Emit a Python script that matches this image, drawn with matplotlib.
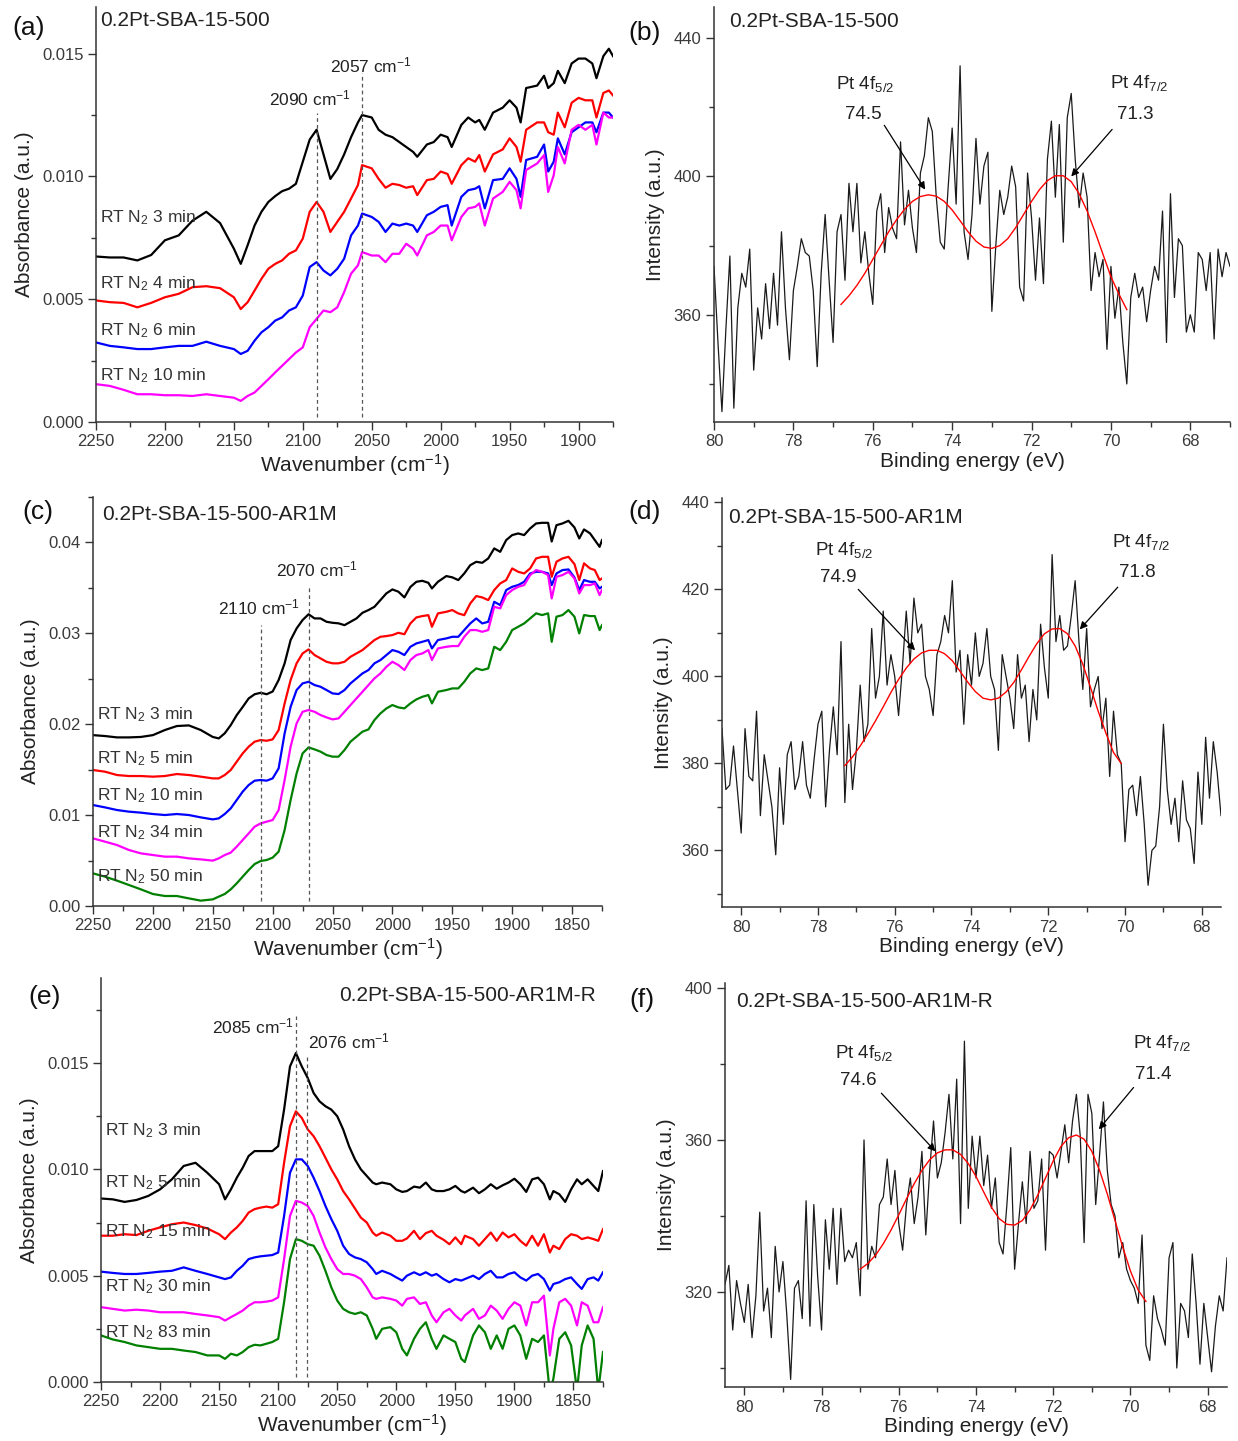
"""Six-panel figure: in-situ CO IR spectra (left) and Pt 4f XPS (right)."""

import matplotlib
matplotlib.use("Agg")
import matplotlib.pyplot as plt
import numpy as np
from matplotlib.ticker import FormatStrFormatter, MultipleLocator

plt.rcParams["font.family"] = ["Liberation Sans", "DejaVu Sans"]
plt.rcParams["mathtext.fontset"] = "custom"
plt.rcParams["mathtext.rm"] = "Liberation Sans"
plt.rcParams["mathtext.it"] = "Liberation Sans:italic"
plt.rcParams["mathtext.default"] = "regular"

W, H = 1238, 1441
INK = "#333333"
IR_COLORS = ["black", "red", "blue", "magenta", "green"]

# ---------------- (a) 0.2Pt-SBA-15-500, IR ----------------
A_WN = [2250, 2240, 2230, 2220, 2210, 2200, 2190, 2180, 2170, 2160,
        2150, 2145, 2140, 2135, 2130, 2125, 2120, 2115, 2110, 2105,
        2100, 2095, 2090, 2085, 2080, 2075, 2070, 2065, 2060, 2057,
        2050, 2045, 2040, 2035, 2030, 2025, 2020, 2017, 2010, 2005,
        2000, 1995, 1992, 1985, 1980, 1975, 1972, 1968, 1962, 1955,
        1950, 1945, 1942, 1938, 1930, 1925, 1922, 1918, 1915, 1910,
        1905, 1900, 1895, 1890, 1887, 1882, 1878, 1875]
A_3MIN = [0.00674, 0.0067, 0.0067, 0.00658, 0.0068, 0.0074, 0.0076, 0.0082, 0.00856, 0.0081,
          0.00706, 0.00644, 0.0072, 0.0080, 0.00856, 0.00896, 0.0092, 0.0094, 0.0095, 0.0097,
          0.0106, 0.0115, 0.0119, 0.0109, 0.0099, 0.0103, 0.0109, 0.0116, 0.0122, 0.0125,
          0.0124, 0.0119, 0.0117, 0.0116, 0.0114, 0.0112, 0.0110, 0.0108, 0.0113, 0.0114,
          0.0117, 0.0116, 0.0112, 0.0121, 0.0124, 0.0122, 0.0123, 0.0119, 0.0126, 0.0128,
          0.0131, 0.0128, 0.0122, 0.0136, 0.0137, 0.0141, 0.0136, 0.0138, 0.0143, 0.0138,
          0.0146, 0.0148, 0.0148, 0.0146, 0.0140, 0.0149, 0.0152, 0.0149]
A_4MIN = [0.00495, 0.00488, 0.00485, 0.00467, 0.00485, 0.00508, 0.00522, 0.00549, 0.00553, 0.00545,
          0.00508, 0.0046, 0.00488, 0.00535, 0.00583, 0.00624, 0.00644, 0.00658, 0.00685, 0.00699,
          0.00747, 0.00856, 0.00896, 0.00856, 0.00774, 0.00815, 0.00856, 0.0091, 0.00965, 0.01046,
          0.01033, 0.0099, 0.00954, 0.0097, 0.00965, 0.00954, 0.0096, 0.00924, 0.00985, 0.0099,
          0.0102, 0.0101, 0.0097, 0.01046, 0.01074, 0.0106, 0.01087, 0.0102, 0.0109, 0.0111,
          0.01155, 0.0112, 0.0106, 0.0119, 0.0122, 0.0122, 0.0118, 0.0117, 0.0126, 0.0120,
          0.0130, 0.0132, 0.0131, 0.0131, 0.0124, 0.0134, 0.0135, 0.0133]
A_6MIN = [0.00324, 0.0031, 0.00304, 0.00297, 0.00297, 0.00304, 0.0031, 0.0031, 0.00327, 0.0031,
          0.00297, 0.00277, 0.0029, 0.00331, 0.00365, 0.00386, 0.00413, 0.00426, 0.00454, 0.00467,
          0.00515, 0.00631, 0.00651, 0.00617, 0.00597, 0.00624, 0.00665, 0.0076, 0.008, 0.00849,
          0.00835, 0.00815, 0.00774, 0.00808, 0.008, 0.00808, 0.008, 0.00774, 0.00842, 0.00856,
          0.00876, 0.00883, 0.008, 0.00917, 0.00944, 0.0095, 0.0096, 0.0087, 0.00985, 0.0099,
          0.01033, 0.0099, 0.00917, 0.01067, 0.0108, 0.0113, 0.0102, 0.0106, 0.01155, 0.0109,
          0.0118, 0.0120, 0.0122, 0.0122, 0.0118, 0.0126, 0.0126, 0.0124]
A_10MIN = [0.00154, 0.00147, 0.00131, 0.00113, 0.00113, 0.00109, 0.00109, 0.00106, 0.00113, 0.00106,
           0.00099, 0.00086, 0.00106, 0.0012, 0.00147, 0.00174, 0.00202, 0.00229, 0.00256, 0.00283,
           0.00304, 0.00386, 0.0042, 0.00454, 0.00447, 0.00467, 0.00529, 0.00604, 0.00638, 0.00692,
           0.00678, 0.00678, 0.00651, 0.00685, 0.00685, 0.00726, 0.00706, 0.00678, 0.0076, 0.00774,
           0.008, 0.008, 0.0074, 0.00835, 0.0087, 0.00876, 0.0089, 0.008, 0.0091, 0.00937,
           0.00978, 0.00944, 0.0087, 0.01026, 0.01053, 0.01087, 0.00937, 0.01005, 0.0112, 0.01053,
           0.0119, 0.0121, 0.0119, 0.0121, 0.0113, 0.0126, 0.0124, 0.0124]
A_LABELS = ["3", "4", "6", "10"]
A_LABEL_Y = [0.00834, 0.00564, 0.00372, 0.00188]
A_PEAKS = [2090, 2057]
A_PEAK_TOPS = [0.0126, 0.0142]
A_PEAK_TEXT = [(2095, 0.01316), (2051, 0.01451)]

# ---------------- (c) 0.2Pt-SBA-15-500-AR1M, IR ----------------
C_WN = [2250, 2240, 2230, 2220, 2210, 2200, 2190, 2180, 2170, 2160,
        2150, 2145, 2140, 2135, 2130, 2125, 2120, 2115, 2110, 2105,
        2100, 2095, 2090, 2085, 2080, 2075, 2070, 2065, 2060, 2055,
        2050, 2045, 2040, 2035, 2030, 2025, 2020, 2015, 2010, 2005,
        2000, 1995, 1990, 1985, 1980, 1975, 1970, 1967, 1962, 1955,
        1950, 1945, 1940, 1935, 1930, 1925, 1920, 1915, 1910, 1905,
        1900, 1895, 1890, 1885, 1880, 1875, 1870, 1867, 1863, 1858,
        1853, 1848, 1844, 1840, 1835, 1831, 1827, 1825]
C_3MIN = [0.0188, 0.0187, 0.01855, 0.01855, 0.0186, 0.0188, 0.01936, 0.0198, 0.01987, 0.01936,
          0.0186, 0.01844, 0.0190, 0.0199, 0.0210, 0.0219, 0.02284, 0.0233, 0.02346, 0.0233,
          0.0236, 0.02486, 0.0267, 0.02926, 0.03054, 0.03146, 0.0321, 0.03164, 0.03164, 0.03127,
          0.03116, 0.0311, 0.0309, 0.03127, 0.03164, 0.03226, 0.03256, 0.03292, 0.03366, 0.0344,
          0.03483, 0.03458, 0.03395, 0.0351, 0.03567, 0.03578, 0.03556, 0.03494, 0.03567, 0.0363,
          0.03616, 0.03586, 0.03659, 0.0375, 0.03787, 0.03776, 0.03824, 0.03934, 0.03897, 0.04026,
          0.04081, 0.04099, 0.04081, 0.04154, 0.04209, 0.04216, 0.04216, 0.0401, 0.0419, 0.04209,
          0.04238, 0.04165, 0.04044, 0.04143, 0.0410, 0.04026, 0.03952, 0.04026]
C_5MIN = [0.01496, 0.01478, 0.01441, 0.0143, 0.0143, 0.01423, 0.0143, 0.01452, 0.01441, 0.01423,
          0.01404, 0.01404, 0.01441, 0.01496, 0.01588, 0.01679, 0.01753, 0.01808, 0.01826, 0.01818,
          0.01833, 0.01936, 0.02229, 0.02486, 0.0267, 0.02779, 0.02823, 0.02761, 0.02724, 0.02687,
          0.0267, 0.0267, 0.02687, 0.02742, 0.02779, 0.02816, 0.02871, 0.02926, 0.02962, 0.0297,
          0.02981, 0.03006, 0.0299, 0.03109, 0.03175, 0.0319, 0.032, 0.03072, 0.03219, 0.03237,
          0.03256, 0.03219, 0.032, 0.03329, 0.0341, 0.03395, 0.03366, 0.03476, 0.03549, 0.03586,
          0.03714, 0.03677, 0.03659, 0.03714, 0.03824, 0.03842, 0.03842, 0.03622, 0.03788, 0.03824,
          0.03842, 0.03762, 0.03586, 0.0377, 0.03714, 0.03696, 0.03586, 0.03604]
C_10MIN = [0.01111, 0.01085, 0.01056, 0.01038, 0.01027, 0.01012, 0.01001, 0.01012, 0.01001, 0.00975,
           0.00953, 0.00964, 0.01012, 0.01074, 0.01166, 0.01258, 0.01331, 0.01379, 0.01386, 0.01379,
           0.01404, 0.01514, 0.01899, 0.02192, 0.02376, 0.02449, 0.02467, 0.02431, 0.02412, 0.02376,
           0.02339, 0.02332, 0.02376, 0.02449, 0.02504, 0.02559, 0.02596, 0.0267, 0.02706, 0.02761,
           0.02816, 0.02797, 0.02761, 0.02852, 0.02889, 0.02907, 0.02926, 0.02834, 0.02926, 0.02944,
           0.02962, 0.02962, 0.03036, 0.03109, 0.03164, 0.03109, 0.03127, 0.03347, 0.03311, 0.03476,
           0.03512, 0.03531, 0.03567, 0.03659, 0.03677, 0.03677, 0.03659, 0.03531, 0.03659, 0.03696,
           0.03703, 0.03615, 0.03476, 0.03586, 0.03567, 0.03567, 0.03494, 0.03512]
C_34MIN = [0.00744, 0.00708, 0.00671, 0.00616, 0.00579, 0.00561, 0.00543, 0.00543, 0.00524, 0.00513,
           0.00499, 0.00524, 0.00561, 0.00587, 0.00653, 0.00726, 0.00799, 0.00873, 0.00909, 0.00928,
           0.00946, 0.01056, 0.01386, 0.01753, 0.02009, 0.02137, 0.02156, 0.02137, 0.02101, 0.02075,
           0.02053, 0.02064, 0.02137, 0.02211, 0.02284, 0.02357, 0.02431, 0.02504, 0.02559, 0.02632,
           0.02687, 0.02651, 0.02596, 0.02706, 0.02761, 0.02779, 0.02816, 0.02706, 0.02834, 0.02852,
           0.0286, 0.0286, 0.02962, 0.03036, 0.03036, 0.03017, 0.03036, 0.03292, 0.03274, 0.03421,
           0.03476, 0.03512, 0.03531, 0.03641, 0.03696, 0.03677, 0.03641, 0.03384, 0.03622, 0.03641,
           0.03677, 0.03604, 0.03439, 0.03531, 0.03531, 0.03549, 0.03421, 0.03476]
C_50MIN = [0.00359, 0.00323, 0.00279, 0.00231, 0.00183, 0.00132, 0.0011, 0.0011, 0.00084, 0.00059,
           0.00073, 0.00103, 0.00132, 0.00183, 0.00249, 0.00323, 0.00396, 0.00462, 0.00495, 0.00506,
           0.00532, 0.00598, 0.00836, 0.01166, 0.01459, 0.01679, 0.01745, 0.01723, 0.01698, 0.01661,
           0.01643, 0.01643, 0.01716, 0.01808, 0.01863, 0.01918, 0.01943, 0.02046, 0.02119, 0.02174,
           0.02211, 0.02185, 0.02174, 0.02229, 0.02273, 0.02302, 0.02321, 0.02229, 0.02357, 0.02376,
           0.02394, 0.02394, 0.02467, 0.02559, 0.02614, 0.02596, 0.02614, 0.02852, 0.02816, 0.02907,
           0.03036, 0.03072, 0.03109, 0.03164, 0.0322, 0.03201, 0.0322, 0.02907, 0.03183, 0.03201,
           0.03256, 0.03183, 0.02999, 0.03201, 0.0319, 0.0319, 0.03036, 0.03091]
C_LABELS = ["3", "5", "10", "34", "50"]
C_LABEL_Y = [0.0211, 0.01626, 0.01209, 0.00802, 0.00319]
C_PEAKS = [2110, 2070]
C_PEAK_TOPS = [0.0309, 0.0351]
C_PEAK_TEXT = [(2111.7, 0.03286), (2063.3, 0.03703)]

# ---------------- (e) 0.2Pt-SBA-15-500-AR1M-R, IR ----------------
E_WN = [2250, 2240, 2230, 2220, 2210, 2200, 2190, 2180, 2170, 2160,
        2150, 2145, 2140, 2135, 2130, 2125, 2120, 2115, 2110, 2105,
        2100, 2095, 2090, 2085, 2080, 2075, 2070, 2065, 2060, 2055,
        2050, 2045, 2040, 2035, 2030, 2025, 2020, 2017, 2012, 2005,
        2000, 1995, 1991, 1985, 1980, 1975, 1970, 1966, 1960, 1955,
        1950, 1945, 1942, 1935, 1930, 1925, 1920, 1915, 1910, 1905,
        1900, 1895, 1890, 1885, 1880, 1875, 1870, 1867, 1862, 1857,
        1852, 1847, 1843, 1838, 1833, 1829, 1825]
E_3MIN = [0.00863, 0.00859, 0.00847, 0.00856, 0.00875, 0.00906, 0.00953, 0.01016, 0.01031, 0.00984,
          0.0093, 0.00859, 0.00906, 0.00961, 0.01008, 0.01063, 0.01086, 0.01086, 0.01086, 0.01086,
          0.01109, 0.01281, 0.01484, 0.01547, 0.01484, 0.0143, 0.01359, 0.0132, 0.01297, 0.01281,
          0.0125, 0.01188, 0.01109, 0.01047, 0.01, 0.00969, 0.00938, 0.0093, 0.00938, 0.0093,
          0.00906, 0.00894, 0.00898, 0.00919, 0.00914, 0.00938, 0.00906, 0.00898, 0.00898, 0.00906,
          0.00922, 0.00898, 0.00891, 0.00914, 0.00888, 0.00906, 0.0093, 0.00909, 0.00925, 0.00938,
          0.00956, 0.0093, 0.00894, 0.00953, 0.00961, 0.0093, 0.00859, 0.00898, 0.00883, 0.00847,
          0.00906, 0.00953, 0.0093, 0.00953, 0.00922, 0.00898, 0.00992]
E_5MIN = [0.00688, 0.00688, 0.00695, 0.00691, 0.00711, 0.00727, 0.00742, 0.0075, 0.00738, 0.00722,
          0.00695, 0.00672, 0.00703, 0.00727, 0.00758, 0.00797, 0.00813, 0.0082, 0.00825, 0.0082,
          0.00836, 0.01031, 0.01203, 0.01273, 0.01242, 0.01188, 0.01156, 0.01109, 0.01055, 0.01,
          0.00953, 0.00898, 0.00859, 0.00816, 0.00773, 0.0075, 0.00703, 0.00688, 0.00703, 0.00688,
          0.00664, 0.00664, 0.00675, 0.00711, 0.00672, 0.007, 0.00711, 0.00688, 0.00669, 0.00648,
          0.0068, 0.00648, 0.00688, 0.00672, 0.00641, 0.00672, 0.00703, 0.00664, 0.00703, 0.0068,
          0.00695, 0.00664, 0.00641, 0.00688, 0.00641, 0.00695, 0.00609, 0.00641, 0.00625, 0.00672,
          0.00695, 0.00688, 0.00672, 0.0068, 0.00672, 0.00664, 0.00719]
E_15MIN = [0.00519, 0.00513, 0.00508, 0.00508, 0.00513, 0.00519, 0.00523, 0.00539, 0.00523, 0.00508,
           0.00492, 0.00484, 0.00492, 0.00523, 0.00547, 0.00578, 0.00586, 0.00591, 0.00594, 0.00597,
           0.00609, 0.00781, 0.00984, 0.01047, 0.01047, 0.01016, 0.00961, 0.00898, 0.00828, 0.00766,
           0.00711, 0.00641, 0.00602, 0.00586, 0.00578, 0.00563, 0.00531, 0.00508, 0.00523, 0.00508,
           0.00492, 0.00477, 0.005, 0.00516, 0.00503, 0.00516, 0.005, 0.00508, 0.00484, 0.00469,
           0.00484, 0.00477, 0.00484, 0.005, 0.00484, 0.00508, 0.00523, 0.00492, 0.00492, 0.00508,
           0.00516, 0.00492, 0.00477, 0.005, 0.00508, 0.00484, 0.0043, 0.00461, 0.00469, 0.00484,
           0.00492, 0.00461, 0.00438, 0.00484, 0.00492, 0.00477, 0.00516]
E_30MIN = [0.00352, 0.00344, 0.00336, 0.0034, 0.00336, 0.00328, 0.00328, 0.00328, 0.0032, 0.00313,
           0.00305, 0.00289, 0.00305, 0.0032, 0.00336, 0.00359, 0.00375, 0.00375, 0.00378, 0.00383,
           0.00398, 0.00578, 0.00781, 0.00852, 0.00844, 0.00828, 0.00781, 0.00703, 0.00633, 0.00578,
           0.00531, 0.00508, 0.00508, 0.005, 0.00484, 0.00445, 0.00398, 0.00391, 0.00398, 0.00391,
           0.00383, 0.00359, 0.00391, 0.00398, 0.00367, 0.00375, 0.00313, 0.00281, 0.00328, 0.00344,
           0.00313, 0.00289, 0.00313, 0.00344, 0.00297, 0.00313, 0.00359, 0.00336, 0.00297, 0.00344,
           0.00375, 0.00359, 0.00266, 0.00375, 0.00375, 0.00406, 0.00125, 0.0025, 0.00375, 0.00391,
           0.00359, 0.00266, 0.00375, 0.00359, 0.00281, 0.00281, 0.00352]
E_83MIN = [0.00219, 0.002, 0.00188, 0.00172, 0.00164, 0.00156, 0.00156, 0.00148, 0.00141, 0.00125,
           0.00125, 0.00109, 0.00133, 0.00125, 0.00141, 0.00164, 0.00175, 0.00172, 0.0018, 0.00188,
           0.00203, 0.00375, 0.00578, 0.00672, 0.00664, 0.00648, 0.00641, 0.00594, 0.00523, 0.00445,
           0.00383, 0.00344, 0.00328, 0.0032, 0.00328, 0.00313, 0.0025, 0.00203, 0.0025, 0.00258,
           0.00234, 0.00156, 0.00125, 0.00203, 0.0025, 0.00281, 0.00203, 0.00156, 0.00219, 0.00203,
           0.00188, 0.00109, 0.00094, 0.00219, 0.00266, 0.00234, 0.00156, 0.00219, 0.00156, 0.0025,
           0.00266, 0.00219, 0.00109, 0.00203, 0.00188, 0.00219, -0.0005, 0.00016, 0.00203, 0.00234,
           0.00172, -0.0004, 0.00172, 0.00266, 0.00203, -0.0004, 0.00141]
E_LABELS = ["3", "5", "15", "30", "83"]
E_LABEL_Y = [0.01182, 0.00937, 0.00707, 0.00448, 0.00231]
E_PEAKS = [2085, 2076]
E_PEAK_TOPS = [0.0172, 0.0154]
E_PEAK_TEXT = [(2121, 0.01672), (2039.7, 0.01602)]

# ---------------- XPS, Pt 4f (0.1 eV steps, high -> low BE) ----------------
B_BE_RANGE = (80.0, 67.0)
B_COUNTS = [374, 352, 332, 356, 377, 333, 362, 372, 368, 379,
            344, 362, 353, 369, 356, 372, 357, 384, 362, 347,
            367, 374, 382, 378, 377, 367, 345, 372, 389, 370,
            352, 384, 389, 370, 398, 384, 398, 375, 384, 372,
            363, 390, 395, 378, 391, 385, 382, 410, 386, 396,
            385, 378, 401, 406, 417, 413, 394, 381, 379, 397,
            414, 392, 432, 384, 376, 389, 411, 392, 403, 407,
            361, 380, 396, 389, 394, 403, 397, 368, 364, 401,
            388, 370, 388, 369, 405, 416, 394, 415, 381, 417,
            424, 405, 391, 401, 394, 367, 378, 371, 376, 350,
            374, 359, 368, 352, 340, 365, 372, 365, 368, 358,
            367, 374, 370, 390, 352, 395, 365, 382, 380, 355,
            360, 355, 378, 376, 367, 378, 353, 379, 371, 378,
            374]
B_FIT_RANGE = (76.8, 69.6)
B_FIT = [363, 365.5, 368.5, 372, 376, 380, 384, 387.5, 390.5, 392.8,
         394.2, 394.7, 394.3, 392.8, 390.3, 387.2, 384.0, 381.3, 379.6, 379.2,
         380.0, 382.0, 385.2, 389.0, 392.8, 396.2, 398.8, 400.2, 400.2, 398.5,
         395.0, 390.0, 384.0, 377.5, 371.0, 366.0, 361.5]

D_BE_RANGE = (80.5, 67.5)
D_COUNTS = [388, 374, 375, 384, 374, 364, 388, 377, 376, 392,
            368, 382, 376, 370, 359, 379, 366, 382, 385, 374,
            377, 385, 375, 372, 381, 389, 392, 370, 383, 393,
            382, 408, 371, 389, 374, 383, 398, 385, 389, 411,
            395, 400, 415, 398, 405, 400, 391, 402, 415, 403,
            418, 410, 412, 400, 397, 391, 405, 408, 414, 410,
            422, 401, 406, 389, 405, 398, 410, 400, 403, 411,
            400, 397, 383, 405, 400, 395, 388, 405, 395, 398,
            385, 397, 390, 412, 402, 395, 428, 408, 414, 406,
            407, 414, 422, 408, 397, 411, 393, 397, 400, 388,
            395, 377, 392, 382, 380, 362, 374, 375, 368, 377,
            366, 352, 360, 361, 370, 389, 374, 366, 372, 362,
            376, 367, 365, 357, 378, 366, 386, 372, 385, 378,
            368]
D_FIT_RANGE = (77.3, 70.1)
D_FIT = [379.5, 381.5, 384, 386.8, 389.8, 393, 396.3, 399.3, 401.9, 404,
         405.4, 406, 406, 405.2, 403.6, 401.2, 398.7, 396.5, 395, 394.6,
         395, 396.4, 398.6, 401.5, 404.6, 407.5, 409.8, 410.9, 411, 409.8,
         407, 402.8, 397.5, 392, 387, 382.5, 380]

F_BE_RANGE = (80.5, 67.5)
F_COUNTS = [322, 327, 310, 323, 317, 312, 322, 308, 319, 341,
            315, 321, 308, 332, 320, 328, 314, 297, 321, 323,
            313, 344, 311, 343, 324, 310, 339, 326, 342, 322,
            342, 328, 331, 329, 333, 319, 360, 326, 332, 329,
            343, 345, 355, 343, 352, 338, 331, 343, 350, 338,
            345, 357, 335, 352, 365, 350, 354, 362, 372, 355,
            376, 338, 386, 342, 361, 350, 361, 348, 356, 342,
            350, 333, 330, 343, 358, 326, 338, 349, 338, 357,
            342, 344, 355, 331, 357, 356, 350, 357, 364, 354,
            365, 372, 361, 333, 372, 367, 343, 356, 370, 352,
            343, 340, 329, 333, 326, 323, 321, 317, 335, 306,
            302, 319, 313, 310, 306, 329, 333, 300, 317, 315,
            308, 330, 317, 301, 317, 308, 299, 311, 319, 315,
            329]
F_FIT_RANGE = (77.0, 69.6)
F_FIT = [326, 327.5, 329.7, 332.7, 336.3, 340.3, 344.5, 348.5, 352, 354.8,
         356.6, 357.4, 357.4, 356.2, 353.8, 350.4, 346.3, 342.3, 339.3, 337.8,
         337.6, 338.8, 341.6, 345.5, 350, 354.5, 358.3, 360.6, 361.3, 360.2,
         357, 352, 345.8, 338.8, 331.8, 325.5, 320.5, 317.5]


def px_axes(fig, left, top, right, bottom):
    """Add axes from pixel box of the 1238x1441 canvas."""
    return fig.add_axes([left / W, 1 - bottom / H, (right - left) / W, (bottom - top) / H])


def style_axes(ax):
    for side in ("top", "right"):
        ax.spines[side].set_visible(False)
    for side in ("left", "bottom"):
        ax.spines[side].set_color(INK)
        ax.spines[side].set_linewidth(1.1)
    ax.tick_params(which="both", direction="out", colors=INK, labelcolor="#3a3a3a",
                   labelsize=12, width=1.0)
    ax.tick_params(which="major", length=6, pad=3)
    ax.tick_params(which="minor", length=3.5)


def ir_panel(ax, wn, series, minutes, label_y, peaks, peak_tops, peak_text,
             ylim, xlim, ymajor, fmt):
    style_axes(ax)
    for values, color in zip(series, IR_COLORS):
        ax.plot(wn, values, color=color, lw=1.6, solid_joinstyle="round")
    ax.vlines(peaks, 0.0002 * ylim[1] / 0.017, peak_tops, colors="#555555",
              linestyles=(0, (3, 2.5)), lw=0.9)
    for (x, y), p in zip(peak_text, peaks):
        ax.text(x, y, f"{p} cm$^{{-1}}$", fontsize=12.5, color="#222222",
                ha="center", va="center")
    for m, y in zip(minutes, label_y):
        ax.text(xlim[0] - 3, y, f"RT N$_2$ {m} min", fontsize=12.5, color="#333333",
                ha="left", va="center")
    ax.set_xlim(*xlim)
    ax.set_ylim(*ylim)
    ax.xaxis.set_major_locator(MultipleLocator(50))
    ax.xaxis.set_minor_locator(MultipleLocator(25))
    ax.yaxis.set_major_locator(MultipleLocator(ymajor))
    ax.yaxis.set_minor_locator(MultipleLocator(ymajor / 2))
    ax.yaxis.set_major_formatter(FormatStrFormatter(fmt))
    ax.set_xlabel("Wavenumber (cm$^{-1}$)", fontsize=15, color="#222222", labelpad=2)
    ax.set_ylabel("Absorbance (a.u.)", fontsize=15, color="#222222", labelpad=6)


def xps_panel(ax, be_range, counts, fit_range, fit, ylim, xlim, ymajor, notes):
    style_axes(ax)
    be = np.linspace(be_range[0], be_range[1], len(counts))
    fit_be = np.linspace(fit_range[0], fit_range[1], len(fit))
    ax.plot(be, counts, color="#1a1a1a", lw=0.9)
    ax.plot(fit_be, fit, color="red", lw=1.0)
    for name, value, text_xy, value_xy, tail, head in notes:
        ax.text(*text_xy, f"Pt 4f$_{{{name}}}$", fontsize=13.5, color="#222222",
                ha="center", va="center")
        ax.text(*value_xy, value, fontsize=13.5, color="#222222", ha="center", va="center")
        ax.annotate("", xy=head, xytext=tail,
                    arrowprops=dict(arrowstyle="-|>", color="black", lw=0.9,
                                    mutation_scale=11, shrinkA=0, shrinkB=0))
    ax.set_xlim(*xlim)
    ax.set_ylim(*ylim)
    ax.xaxis.set_major_locator(MultipleLocator(2))
    ax.xaxis.set_minor_locator(MultipleLocator(1))
    ax.yaxis.set_major_locator(MultipleLocator(ymajor))
    ax.yaxis.set_minor_locator(MultipleLocator(ymajor / 2))
    ax.set_xlabel("Binding energy (eV)", fontsize=15, color="#222222", labelpad=2)
    ax.set_ylabel("Intensity (a.u.)", fontsize=15, color="#222222", labelpad=6)


fig = plt.figure(figsize=(W / 100, H / 100), dpi=100)

# (a)
ax_a = px_axes(fig, 96, 7, 613, 422)
ir_panel(ax_a, A_WN, [A_3MIN, A_4MIN, A_6MIN, A_10MIN], A_LABELS, A_LABEL_Y,
         A_PEAKS, A_PEAK_TOPS, A_PEAK_TEXT, (0, 0.0169), (2250, 1875), 0.005, "%.3f")
ax_a.text(2247, 0.01635, "0.2Pt-SBA-15-500", fontsize=15, color="#222222", va="center")

# (b)
ax_b = px_axes(fig, 714, 7, 1230, 422)
xps_panel(ax_b, B_BE_RANGE, B_COUNTS, B_FIT_RANGE, B_FIT, (329, 449), (80, 67), 40,
          [("5/2", "74.5", (76.2, 426.7), (76.24, 418), (75.71, 414.8), (74.68, 396.2)),
           ("7/2", "71.3", (69.3, 427), (69.39, 418), (69.97, 413.6), (71.0, 400))])
ax_b.text(79.62, 444.9, "0.2Pt-SBA-15-500", fontsize=15, color="#222222", va="center")

# (c)
ax_c = px_axes(fig, 93, 497, 602, 906)
ir_panel(ax_c, C_WN, [C_3MIN, C_5MIN, C_10MIN, C_34MIN, C_50MIN], C_LABELS, C_LABEL_Y,
         C_PEAKS, C_PEAK_TOPS, C_PEAK_TEXT, (0, 0.045), (2250, 1825), 0.01, "%.2f")
ax_c.text(2242.5, 0.0431, "0.2Pt-SBA-15-500-AR1M", fontsize=15, color="#222222", va="center")

# (d)
ax_d = px_axes(fig, 722, 498, 1221, 907)
xps_panel(ax_d, D_BE_RANGE, D_COUNTS, D_FIT_RANGE, D_FIT, (347, 441), (80.5, 67.5), 20,
          [("5/2", "74.9", (77.32, 429), (77.47, 422.8), (76.95, 420), (75.47, 406)),
           ("7/2", "71.8", (69.59, 430.8), (69.67, 423.9), (70.19, 420.5), (71.18, 410.8))])
ax_d.text(80.33, 436.6, "0.2Pt-SBA-15-500-AR1M", fontsize=15, color="#222222", va="center")

# (e)
ax_e = px_axes(fig, 101, 978, 603, 1382)
ir_panel(ax_e, E_WN, [E_3MIN, E_5MIN, E_15MIN, E_30MIN, E_83MIN], E_LABELS, E_LABEL_Y,
         E_PEAKS, E_PEAK_TOPS, E_PEAK_TEXT, (0, 0.019), (2250, 1825), 0.005, "%.3f")
ax_e.text(1831, 0.01818, "0.2Pt-SBA-15-500-AR1M-R", fontsize=15, color="#222222",
          ha="right", va="center")

# (f)
ax_f = px_axes(fig, 725, 983, 1227, 1387)
xps_panel(ax_f, F_BE_RANGE, F_COUNTS, F_FIT_RANGE, F_FIT, (295, 401.3), (80.5, 67.5), 40,
          [("5/2", "74.6", (76.9, 383), (77.05, 375.6), (76.45, 372.3), (75.05, 357)),
           ("7/2", "71.4", (69.17, 385.6), (69.4, 377.2), (69.92, 373.8), (70.82, 362.8))])
ax_f.text(80.2, 396.4, "0.2Pt-SBA-15-500-AR1M-R", fontsize=15, color="#222222", va="center")

# panel letters
for letter, (x, y) in zip("abcdef", [(29, 28), (645, 33), (38, 512),
                                     (645, 512), (45, 997), (642, 1000)]):
    fig.text(x / W, 1 - y / H, f"({letter})", fontsize=19, color="#111111",
             ha="center", va="center")

fig.savefig("out.png", dpi=100)
